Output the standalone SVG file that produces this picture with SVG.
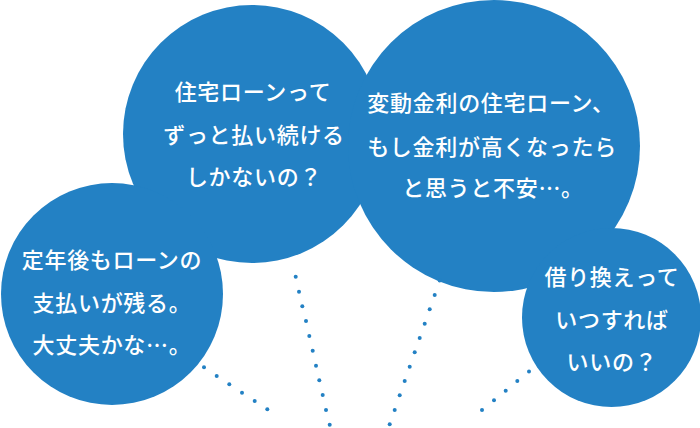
<svg xmlns="http://www.w3.org/2000/svg" width="700" height="428" viewBox="0 0 700 428">
  <style>
    .bubble { fill: #2381C4; }
    .label { fill: #FFFFFF; font-family: "Noto Sans CJK JP", "Noto Sans", sans-serif; font-size: 22px; font-weight: 500; letter-spacing: 0.7px; text-anchor: middle; }
    .dot { fill: #2381C4; }
  </style>
  <rect width="700" height="428" fill="#FFFFFF"/>

  <g id="node-loan-forever">
    <circle class="bubble" cx="252" cy="134" r="129"/>
    <text class="label" x="253" y="100">住宅ローンって</text>
    <text class="label" x="254" y="143">ずっと払い続ける</text>
    <text class="label" x="254" y="185">しかないの？</text>
  </g>

  <g id="node-variable-rate">
    <circle class="bubble" cx="494" cy="146" r="146"/>
    <text class="label" x="491" y="111">変動金利の住宅ローン、</text>
    <text class="label" x="492" y="155">もし金利が高くなったら</text>
    <text class="label" x="493" y="196">と思うと不安…。</text>
  </g>

  <g id="node-after-retirement">
    <circle class="bubble" cx="112" cy="294" r="111"/>
    <text class="label" x="112" y="268">定年後もローンの</text>
    <text class="label" x="112" y="311">支払いが残る。</text>
    <text class="label" x="112" y="353">大丈夫かな…。</text>
  </g>

  <g id="node-refinance">
    <circle class="bubble" cx="611.5" cy="317.5" r="89.5"/>
    <text class="label" x="612" y="285">借り換えって</text>
    <text class="label" x="612" y="328">いつすれば</text>
    <text class="label" x="612" y="370">いいの？</text>
  </g>

  <g id="connectors">
    <circle class="dot" cx="204" cy="367.3" r="2"/>
    <circle class="dot" cx="216.7" cy="376" r="2"/>
    <circle class="dot" cx="229.3" cy="384.3" r="2"/>
    <circle class="dot" cx="242" cy="392.7" r="2"/>
    <circle class="dot" cx="254.7" cy="401" r="2"/>
    <circle class="dot" cx="267.3" cy="409.3" r="2"/>

    <circle class="dot" cx="295.7" cy="276.7" r="2"/>
    <circle class="dot" cx="299" cy="291.7" r="2"/>
    <circle class="dot" cx="302.3" cy="306.3" r="2"/>
    <circle class="dot" cx="306" cy="321" r="2"/>
    <circle class="dot" cx="309.3" cy="336" r="2"/>
    <circle class="dot" cx="312.7" cy="350.7" r="2"/>
    <circle class="dot" cx="316" cy="365.7" r="2"/>
    <circle class="dot" cx="319.3" cy="380.3" r="2"/>
    <circle class="dot" cx="322.7" cy="395" r="2"/>
    <circle class="dot" cx="326" cy="410" r="2"/>
    <circle class="dot" cx="329.7" cy="424.7" r="2"/>

    <circle class="dot" cx="439.7" cy="280.6" r="2"/>
    <circle class="dot" cx="434.7" cy="295" r="2"/>
    <circle class="dot" cx="429.7" cy="309.3" r="2"/>
    <circle class="dot" cx="424.7" cy="323.7" r="2"/>
    <circle class="dot" cx="419.7" cy="338" r="2"/>
    <circle class="dot" cx="414.7" cy="352.3" r="2"/>
    <circle class="dot" cx="409.7" cy="366.7" r="2"/>
    <circle class="dot" cx="404.7" cy="381" r="2"/>
    <circle class="dot" cx="399.7" cy="395.3" r="2"/>
    <circle class="dot" cx="394.7" cy="410" r="2"/>
    <circle class="dot" cx="389.7" cy="424.3" r="2"/>

    <circle class="dot" cx="529" cy="371.5" r="2"/>
    <circle class="dot" cx="517.3" cy="381" r="2"/>
    <circle class="dot" cx="505.7" cy="390.7" r="2"/>
    <circle class="dot" cx="494" cy="400.3" r="2"/>
    <circle class="dot" cx="482" cy="410" r="2"/>
  </g>
</svg>
